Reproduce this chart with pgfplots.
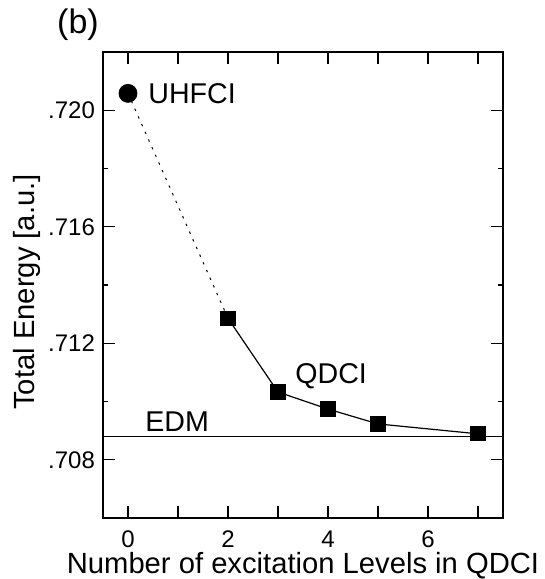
\documentclass[border=0pt]{standalone}
\usepackage{pgfplots}
\pgfplotsset{compat=1.18}
\usepackage{fontspec}
\setmainfont{Liberation Sans}
\begin{document}
\begin{tikzpicture}
\path[use as bounding box] (-51.5pt,-30.5pt) rectangle (221pt,259pt);
\begin{axis}[
  at={(0pt,0pt)}, anchor=south west,
  scale only axis, width=200pt, height=233pt,
  xmin=-0.5, xmax=7.5, ymin=0.706, ymax=0.722,
  xtick={0,1,2,3,4,5,6,7},
  xticklabels={0,,2,,4,,6,},
  ytick={0.708,0.712,0.716,0.720},
  yticklabels={.708,.712,.716,.720},
  minor ytick={0.710,0.714,0.718},
  major tick length=6pt, minor tick length=2.5pt,
  tick style={black, line width=0.6pt},
  axis line style={line width=0.7pt},
  tick align=inside,
  ticklabel style={font=\fontsize{12}{14}\selectfont},
  /pgf/number format/assume math mode=true,
  xticklabel style={yshift=-3pt},
  yticklabel style={xshift=-0.5pt},
  xlabel={Number of excitation Levels in QDCI},
  ylabel={Total Energy [a.u.]},
  label style={font=\fontsize{14.6}{17}\selectfont},
  xlabel style={at={(axis description cs:0.5,0)}, anchor=center, yshift=-24pt},
  ylabel style={at={(axis description cs:0,0.485)}, anchor=center, yshift=38pt},
  clip=false,
]
\addplot[black, line width=0.5pt, dash pattern=on 1.2pt off 3pt] coordinates {(0,0.72058) (2,0.712855)};
\addplot[black, line width=0.6pt, mark=square*, mark size=3.5pt] coordinates {
(2,0.712855) (3,0.710325) (4,0.70974) (5,0.70923) (7,0.70889)};
\addplot[black, mark=*, mark size=4.5pt, only marks] coordinates {(0,0.72058)};
\addplot[black, line width=0.6pt] coordinates {(-0.5,0.7088) (7.5,0.7088)};
\node[anchor=west, inner sep=0pt, font=\fontsize{14.3}{16}\selectfont] at (axis cs:0.4,0.72058) {UHFCI};
\node[anchor=west, inner sep=0pt, font=\fontsize{14.3}{16}\selectfont] at (axis cs:3.34,0.71087) {QDCI};
\node[anchor=west, inner sep=0pt, font=\fontsize{14.3}{16}\selectfont] at (axis cs:0.34,0.70930) {EDM};
\end{axis}
\node[font=\fontsize{17}{19}\selectfont] at (-12.5pt,246.5pt) {(b)};
\end{tikzpicture}
\end{document}
